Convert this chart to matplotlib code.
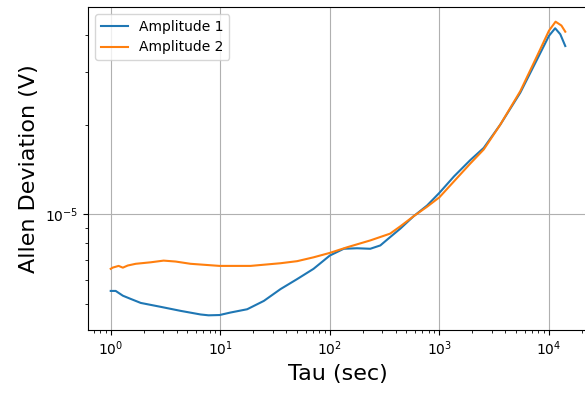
import numpy as np
import matplotlib
matplotlib.use("Agg")
import matplotlib.pyplot as plt

# Tau values (sec) and Allan deviation (V)
tau_1 = [1, 1.11, 1.29, 1.52, 1.88, 2.86, 4.35, 6.61, 7.82, 9.85, 12.4, 17.6,
         25.0, 35.5, 50.3, 71, 100, 134, 177, 234, 289, 355, 440, 580, 772,
         1000, 1360, 1915, 2540, 3600, 5480, 7800, 10000, 11400, 12700, 14100]
adev_1 = [5.53e-6, 5.53e-6, 5.33e-6, 5.20e-6, 5.04e-6, 4.89e-6, 4.74e-6,
          4.61e-6, 4.58e-6, 4.59e-6, 4.68e-6, 4.80e-6, 5.12e-6, 5.61e-6,
          6.06e-6, 6.56e-6, 7.27e-6, 7.66e-6, 7.69e-6, 7.66e-6, 7.86e-6,
          8.38e-6, 8.95e-6, 9.84e-6, 1.07e-5, 1.18e-5, 1.34e-5, 1.52e-5,
          1.67e-5, 2.00e-5, 2.56e-5, 3.31e-5, 3.97e-5, 4.21e-5, 4.02e-5, 3.67e-5]

tau_2 = [1, 1.04, 1.18, 1.29, 1.43, 1.69, 2.32, 3.04, 3.91, 5.35, 9.85, 18.9,
         35.5, 50.3, 71, 100, 144, 234, 355, 440, 580, 772, 1000, 1360,
         1915, 2540, 3600, 5480, 7800, 10000, 11500, 13000, 14100]
adev_2 = [6.56e-6, 6.62e-6, 6.71e-6, 6.62e-6, 6.73e-6, 6.82e-6, 6.90e-6,
          6.99e-6, 6.94e-6, 6.82e-6, 6.71e-6, 6.71e-6, 6.85e-6, 6.96e-6,
          7.17e-6, 7.42e-6, 7.75e-6, 8.17e-6, 8.61e-6, 9.11e-6, 9.84e-6,
          1.06e-5, 1.14e-5, 1.29e-5, 1.48e-5, 1.65e-5, 2.00e-5, 2.59e-5,
          3.40e-5, 4.13e-5, 4.43e-5, 4.30e-5, 4.10e-5]

fig = plt.figure(figsize=(5.85, 3.94), dpi=100)
# axes run slightly past the right edge, like the cropped original
ax = fig.add_axes([88 / 585, 64 / 394, 500 / 585, 323 / 394])

ax.loglog(tau_1, adev_1, color="tab:blue", lw=1.5, label="Amplitude 1")
ax.loglog(tau_2, adev_2, color="tab:orange", lw=1.5, label="Amplitude 2")

ax.grid(True, which="major", color="#b0b0b0", lw=0.8)
ax.set_xlabel("Tau (sec)", fontsize=16)
ax.set_ylabel("Allen Deviation (V)", fontsize=16)
ax.legend(loc="upper left")

fig.savefig("out.png", dpi=100)
